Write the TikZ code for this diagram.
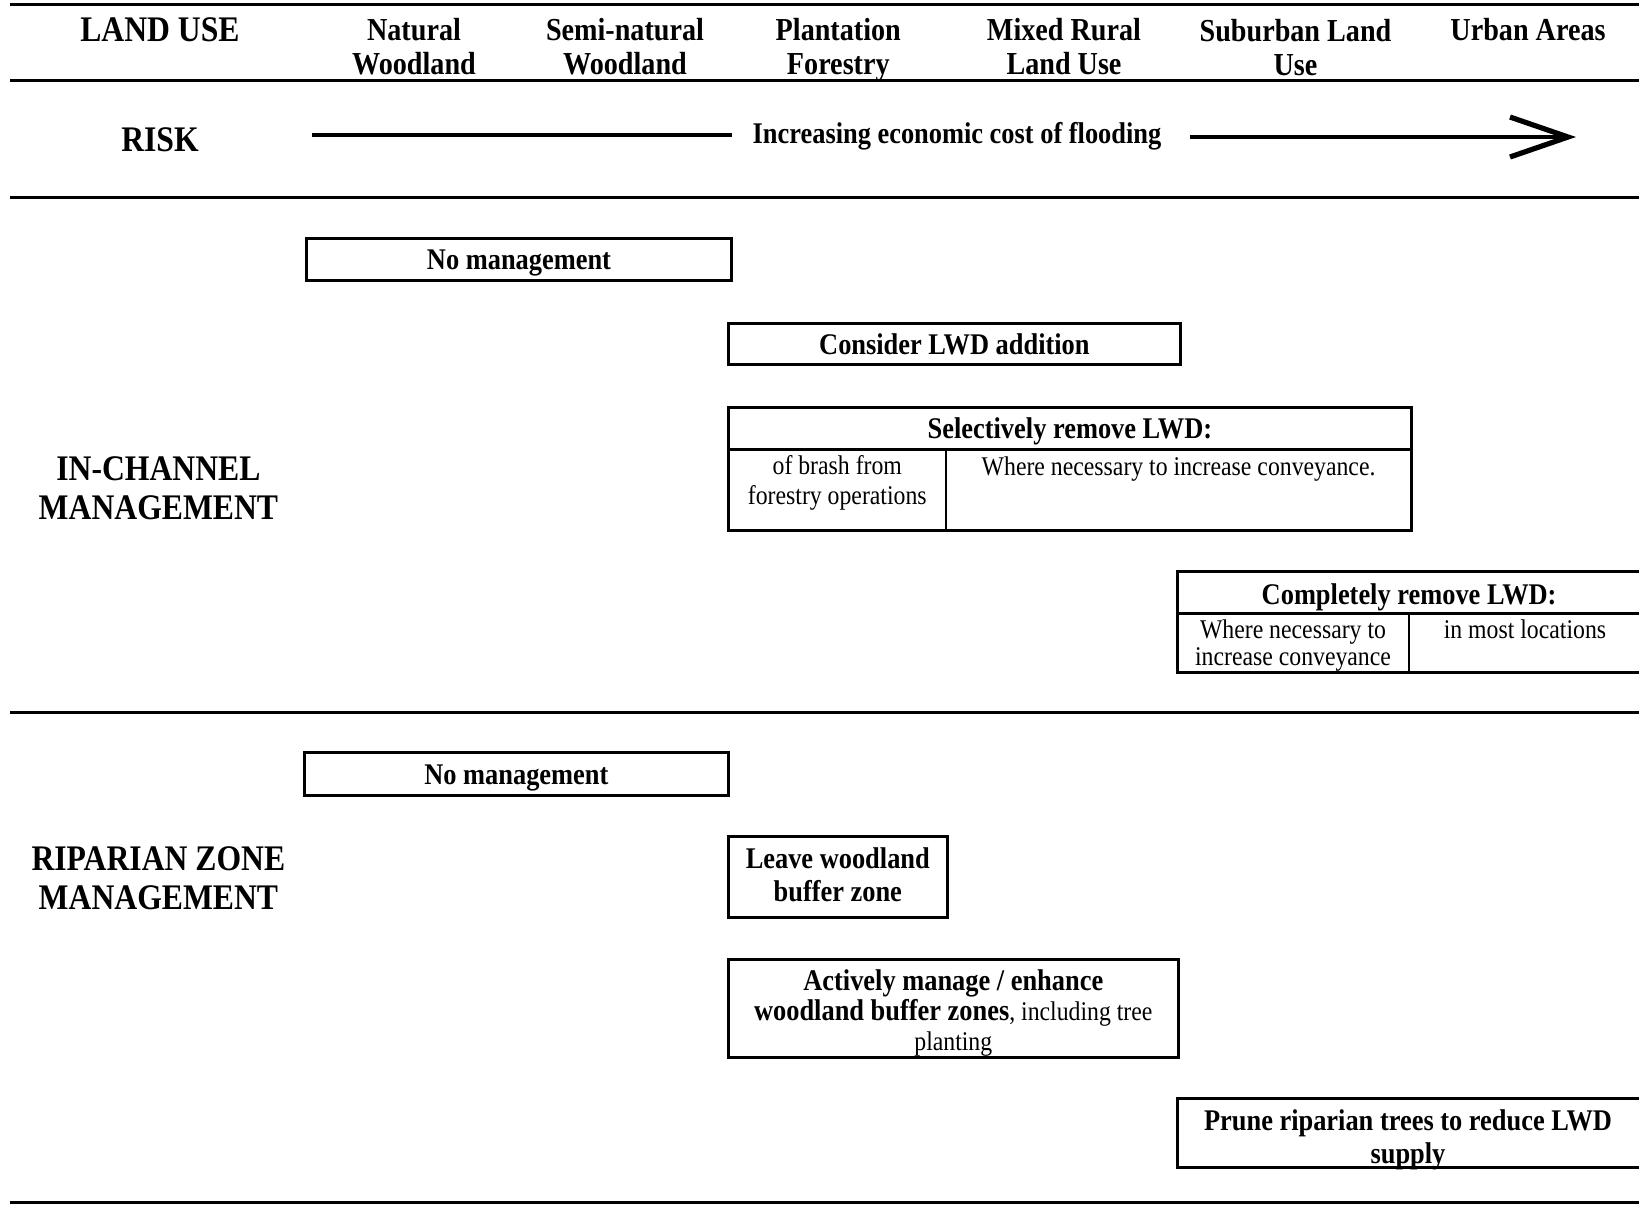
\documentclass[tikz,border=0pt]{standalone}
\usepackage{fontspec}
\setmainfont[FakeStretch=0.88]{Liberation Serif}
\begin{document}
\begin{tikzpicture}[x=0.5pt,y=-0.5pt,
  rulestyle/.style={line width=1.5pt},
  boxstyle/.style={draw, line width=1.5pt, rectangle, inner sep=0pt},
  oneline/.style={text height=10.2pt, text depth=0pt},
  cellline/.style={line width=1.2pt},
  hdrtext/.style={font=\bfseries\fontsize{16}{17}\selectfont, align=center, inner sep=0pt},
  rowtext/.style={font=\bfseries\fontsize{18}{19.4}\selectfont, align=center, inner sep=0pt},
  boldtext/.style={font=\bfseries\fontsize{15}{16}\selectfont, align=center, inner sep=0pt},
  plaintext/.style={font=\fontsize{13.5}{14.6}\selectfont, align=center, inner sep=0pt}]
\useasboundingbox (0,0) rectangle (1639,1206);

% horizontal rules
\draw[rulestyle] (10,4) -- (1639,4);
\draw[rulestyle] (10,80.5) -- (1639,80.5);
\draw[rulestyle] (10,197.6) -- (1639,197.6);
\draw[rulestyle] (10,712.9) -- (1639,712.9);
\draw[rulestyle] (10,1202) -- (1639,1202);

% header row
\node[rowtext] (landuse) at (160,29.3) {LAND USE};
\node[hdrtext] (h1) at (414,47) {Natural\\Woodland};
\node[hdrtext] (h2) at (625,47) {Semi-natural\\Woodland};
\node[hdrtext] (h3) at (838.3,49.7) {Plantation\\Forestry};
\node[hdrtext] (h4) at (1064,47) {Mixed Rural\\Land Use};
\node[hdrtext] (h5) at (1295.5,47.5) {Suburban Land\\Use};
\node[hdrtext] (h6) at (1528,29.3) {Urban Areas};

% risk row
\node[rowtext] (risk) at (160,140) {RISK};
\coordinate (arL) at (311.5,135);
\coordinate (arLe) at (731.7,135);
\node[boldtext] (cost) at (957,135.9) {Increasing economic cost of flooding};
\coordinate (arR) at (1189.6,137);
\coordinate (tip) at (1568,137);
\draw[line width=2pt] (arL) -- (arLe);
\draw[line width=2pt] (arR) -- (tip);
\draw[line width=2.6pt, line join=miter] (tip) ++(-58,-20) -- (tip) -- ++(-58,20);

% in-channel management
\node[rowtext] (inch) at (158.4,488.6) {IN-CHANNEL\\MANAGEMENT};
\node[boxstyle, boldtext, oneline, minimum width=212.7pt, minimum height=20.9pt] (inNone) at (519,259.2) {No management};
\node[boxstyle, boldtext, oneline, minimum width=225.75pt, minimum height=20.9pt] (inAdd) at (954.4,343.9) {Consider LWD addition};

\node[boxstyle, minimum width=341.3pt, minimum height=61.15pt] (inSel) at (1069.9,468.85) {};
\draw[cellline] (728.6,449.5) -- (1411.2,449.5);
\draw[cellline] (946,449.5) -- (946,530);
\node[boldtext] (selHead) at (1069.9,431.7) {Selectively remove LWD:};
\node[plaintext] (selA) at (837.3,482.9) {of brash from\\forestry operations};
\node[plaintext] (selB) at (1178.6,469.3) {Where necessary to increase conveyance.};

\node[boxstyle, minimum width=232.5pt, minimum height=50.15pt] (inComp) at (1409.5,621.95) {};
\draw[cellline] (1177,613.6) -- (1642,613.6);
\draw[cellline] (1409.1,613.6) -- (1409.1,672.1);
\node[boldtext] (compHead) at (1409.1,596.9) {Completely remove LWD:};
\node[plaintext, font=\fontsize{13.5}{13.5}\selectfont] (compA) at (1293,646) {Where necessary to\\increase conveyance};
\node[plaintext] (compB) at (1525,629.3) {in most locations};

% riparian zone management
\node[rowtext] (ripz) at (158.4,878.5) {RIPARIAN ZONE\\MANAGEMENT};
\node[boxstyle, boldtext, oneline, minimum width=212.2pt, minimum height=21.45pt] (ripNone) at (516.4,774) {No management};

\node[boxstyle, minimum width=109.2pt, minimum height=40.8pt] (ripLeave) at (837.8,877) {};
\node[boldtext, font=\bfseries\fontsize{15}{16.2}\selectfont] (leaveText) at (837.8,874.9) {Leave woodland\\buffer zone};

\node[boxstyle, minimum width=224.7pt, minimum height=49.1pt] (ripActive) at (953.3,1008.7) {};
\node[boldtext, font=\bfseries\fontsize{15}{15.1}\selectfont] (activeText) at (953.3,1012.9) {Actively manage / enhance\\woodland buffer zones{\mdseries\fontsize{13.5}{15.1}\selectfont, including tree}\\{\mdseries\fontsize{13.5}{15.1}\selectfont planting}};

\node[boxstyle, minimum width=232.5pt, minimum height=34.5pt] (ripPrune) at (1409.5,1133.1) {};
\node[boldtext, font=\bfseries\fontsize{15}{16.2}\selectfont] (pruneText) at (1408,1139.9) {Prune riparian trees to reduce LWD\\supply};
\end{tikzpicture}
\end{document}
